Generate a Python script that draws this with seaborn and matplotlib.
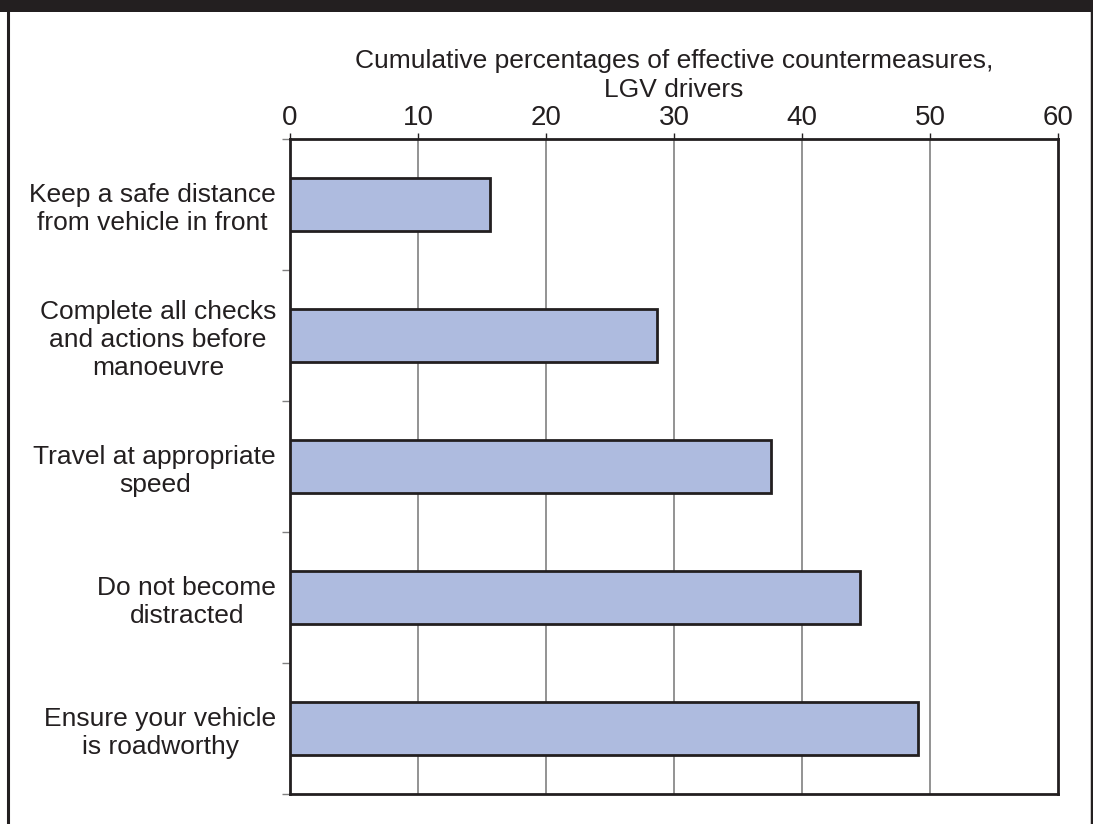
import matplotlib
matplotlib.use("Agg")
import matplotlib.pyplot as plt
import seaborn as sns
import pandas as pd
from matplotlib.patches import Rectangle
from matplotlib.lines import Line2D

categories = [
    "Keep a safe distance\nfrom vehicle in front",
    "Complete all checks\nand actions before\nmanoeuvre",
    "Travel at appropriate\nspeed",
    "Do not become\ndistracted",
    "Ensure your vehicle\nis roadworthy",
]
values = [15.6, 28.7, 37.6, 44.5, 49.1]
x_ticks = [0, 10, 20, 30, 40, 50, 60]

sns.set_theme(style="white")
plt.rcParams['font.family'] = ['Liberation Sans', 'DejaVu Sans']

df = pd.DataFrame({"cat": categories, "val": values})

fig = plt.figure(figsize=(10.93, 8.24), dpi=100)
ax = fig.add_axes([290/1093, 30/824, 768/1093, 655/824])

sns.barplot(data=df, x="val", y="cat", orient="h", width=0.4,
            color="#aebbdf", saturation=1, edgecolor="#231f20", linewidth=2, ax=ax, zorder=3)

ax.set_xlim(0, 60)
ax.set_ylim(4.5, -0.5)
ax.set_xticks(x_ticks)
ax.xaxis.tick_top()
ax.xaxis.set_label_position("top")
ax.set_xlabel("Cumulative percentages of effective countermeasures,\nLGV drivers",
              fontsize=19, color="#231f20", labelpad=6, linespacing=1.25)
ax.set_ylabel("")
ax.tick_params(axis="x", which="major", length=4.5, width=1, color="#231f20",
               labelsize=20, labelcolor="#231f20", pad=1, direction="out")
ax.tick_params(axis="y", which="major", length=0, labelsize=19, labelcolor="#231f20", pad=10)
ax.set_yticks([-0.5, 0.5, 1.5, 2.5, 3.5, 4.5], minor=True)
ax.tick_params(axis="y", which="minor", length=6, width=1, color="#808080", left=True)
for lbl in ax.get_yticklabels():
    lbl.set_multialignment("center")
    lbl.set_linespacing(1.2)

ax.grid(False)
for xv in x_ticks[1:-1]:
    ax.axvline(xv, color="#808080", lw=1.2, zorder=1)
for s in ["top", "bottom", "left", "right"]:
    ax.spines[s].set_visible(True)
    ax.spines[s].set_color("#231f20")
    ax.spines[s].set_linewidth(2)

# header bar and frame
fig.patches.append(Rectangle((0, 1 - 12/824), 1, 12/824, transform=fig.transFigure,
                             facecolor="#231f20", edgecolor="none", zorder=0))
fig.lines.append(Line2D([8/1093, 8/1093], [0, 1], transform=fig.transFigure,
                        color="#231f20", lw=2.2))
fig.lines.append(Line2D([1091.5/1093, 1091.5/1093], [0, 1], transform=fig.transFigure,
                        color="#231f20", lw=2.5))

fig.savefig("out.png", dpi=100)
